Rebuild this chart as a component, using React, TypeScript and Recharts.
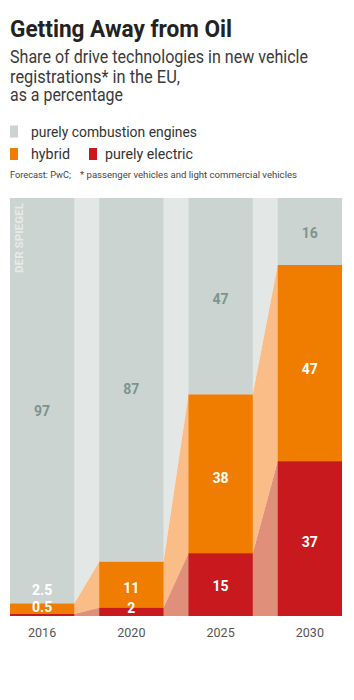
import React from 'react';
import { ComposedChart, Area, XAxis, YAxis, Scatter } from 'recharts';

// ---------- data ----------
const years = ['2016', '2020', '2025', '2030'];
const combustion = [97, 87, 47, 16];
const hybrid = [2.5, 11, 38, 47];
const electric = [0.5, 2, 15, 37];

// ---------- style ----------
const BAR = 0.72; // share of a category slot covered by the bar
const C = {
  barGray: '#ccd4d1',
  gapGray: '#e3e8e6',
  orange: '#f07d00',
  red: '#c8191e',
  lightOrange: '#fbbd88',
  salmon: '#e0907a',
  grayText: '#7c948d',
};
const labelNudge: Record<string, number[]> = {
  combustion: [10, 9, 3, 2],
  hybrid: [-19, 3, 4, 6],
  electric: [-8, -4, 1, 3],
};
const FONT = 'Roboto, "Noto Sans", sans-serif';

// ---------- table built from the arrays ----------
type Row = Record<string, any>;
const rows: Row[] = [];
years.forEach((_, i) => {
  const e = electric[i];
  const h = hybrid[i];
  const c = combustion[i];
  const ranges = {
    E: [0, e],
    H: [e, e + h],
    Cb: [e + h, e + h + c],
  };
  const full = {
    bE: ranges.E, bH: ranges.H, bC: ranges.Cb,
    cE: ranges.E, cH: ranges.H, cC: ranges.Cb,
  };
  rows.push({ x: i, ...full });
  rows.push({ x: i + BAR, ...full });
  if (i < years.length - 1) {
    rows.push({ x: i + (1 + BAR) / 2, bE: null, bH: null, bC: null, cE: null, cH: null, cC: null });
  }
});

const labels: Row[] = [];
years.forEach((_, i) => {
  const e = electric[i];
  const h = hybrid[i];
  const c = combustion[i];
  labels.push({ x: i + BAR / 2, y: e / 2, text: String(e), color: '#fff', nudge: labelNudge.electric[i] });
  labels.push({ x: i + BAR / 2, y: e + h / 2, text: String(h), color: '#fff', nudge: labelNudge.hybrid[i] });
  labels.push({ x: i + BAR / 2, y: e + h + c / 2, text: String(c), color: C.grayText, nudge: labelNudge.combustion[i] });
});

const LabelShape = (p: any) => {
  const d = p.payload || {};
  return (
    <text
      x={p.cx}
      y={p.cy + (d.nudge || 0) + 5}
      textAnchor="middle"
      fontFamily={FONT}
      fontWeight={700}
      fontSize={14}
      fill={d.color}
    >
      {d.text}
    </text>
  );
};

const Header = () => (
  <svg width={354} height={190} style={{ position: 'absolute', left: 0, top: 0 }} fontFamily={FONT}>
    <text x={10} y={37.3} fontSize={23.5} fontWeight={700} fill="#222" textLength={222} lengthAdjust="spacingAndGlyphs">
      Getting Away from Oil
    </text>
    <text x={10} y={63.3} fontSize={17.5} fill="#3a3a3a" textLength={298} lengthAdjust="spacingAndGlyphs">
      Share of drive technologies in new vehicle
    </text>
    <text x={10} y={82.5} fontSize={17.5} fill="#3a3a3a" textLength={170} lengthAdjust="spacingAndGlyphs">
      registrations* in the EU,
    </text>
    <text x={10} y={101.3} fontSize={17.5} fill="#3a3a3a" textLength={113} lengthAdjust="spacingAndGlyphs">
      as a percentage
    </text>

    <rect x={10} y={125.5} width={8} height={12} fill={C.barGray} />
    <text x={31} y={137.3} fontSize={15.5} fill="#333" textLength={166} lengthAdjust="spacingAndGlyphs">
      purely combustion engines
    </text>
    <rect x={10} y={148} width={8} height={12} fill={C.orange} />
    <text x={31} y={158.7} fontSize={15.5} fill="#333" textLength={39} lengthAdjust="spacingAndGlyphs">
      hybrid
    </text>
    <rect x={89} y={148} width={8} height={12} fill={C.red} />
    <text x={105} y={158.7} fontSize={15.5} fill="#333" textLength={88} lengthAdjust="spacingAndGlyphs">
      purely electric
    </text>

    <text x={10} y={178.3} fontSize={9.5} fill="#444" textLength={61} lengthAdjust="spacingAndGlyphs">
      Forecast: PwC;
    </text>
    <text x={80} y={178.3} fontSize={9.5} fill="#444" textLength={217} lengthAdjust="spacingAndGlyphs">
      * passenger vehicles and light commercial vehicles
    </text>
  </svg>
);

const Watermark = () => (
  <svg width={354} height={700} style={{ position: 'absolute', left: 0, top: 0, pointerEvents: 'none' }}>
    <text
      transform="translate(23, 273) rotate(-90)"
      fontFamily={FONT}
      fontWeight={700}
      fontSize={10.5}
      fill="#ffffff"
      fillOpacity={0.55}
      textLength={70}
      lengthAdjust="spacingAndGlyphs"
    >
      DER SPIEGEL
    </text>
  </svg>
);

export default function App() {
  const xMax = years.length - 1 + BAR;
  const ticks = years.map((_, i) => i + BAR / 2);
  return (
    <div style={{ position: 'relative', width: 354, height: 700, background: '#fff' }}>
      <style>{'body{margin:0}'}</style>
      <Header />
      <div style={{ position: 'absolute', left: 0, top: 190 }}>
        <ComposedChart width={354} height={460} data={rows} margin={{ top: 8, right: 12, bottom: 4, left: 10 }}>
          <XAxis
            dataKey="x"
            type="number"
            domain={[0, xMax]}
            allowDataOverflow
            ticks={ticks}
            interval={0}
            tickFormatter={(v: number) => years[Math.round(v - BAR / 2)]}
            axisLine={false}
            tickLine={false}
            tickSize={6}
            tickMargin={6}
            height={30}
            tick={{ fill: '#555', fontSize: 12.5, fontFamily: FONT }}
          />
          <YAxis type="number" domain={[0, 100]} hide allowDataOverflow />
          {/* connectors */}
          <Area dataKey="cC" type="linear" fill={C.gapGray} fillOpacity={1} stroke="none" connectNulls isAnimationActive={false} dot={false} activeDot={false} />
          <Area dataKey="cH" type="linear" fill={C.lightOrange} fillOpacity={1} stroke="none" connectNulls isAnimationActive={false} dot={false} activeDot={false} />
          <Area dataKey="cE" type="linear" fill={C.salmon} fillOpacity={1} stroke="none" connectNulls isAnimationActive={false} dot={false} activeDot={false} />
          {/* bars */}
          <Area dataKey="bC" type="linear" fill={C.barGray} fillOpacity={1} stroke="none" isAnimationActive={false} dot={false} activeDot={false} />
          <Area dataKey="bH" type="linear" fill={C.orange} fillOpacity={1} stroke="none" isAnimationActive={false} dot={false} activeDot={false} />
          <Area dataKey="bE" type="linear" fill={C.red} fillOpacity={1} stroke="none" isAnimationActive={false} dot={false} activeDot={false} />
          <Scatter data={labels} dataKey="y" shape={LabelShape} isAnimationActive={false} />
        </ComposedChart>
      </div>
      <Watermark />
    </div>
  );
}
